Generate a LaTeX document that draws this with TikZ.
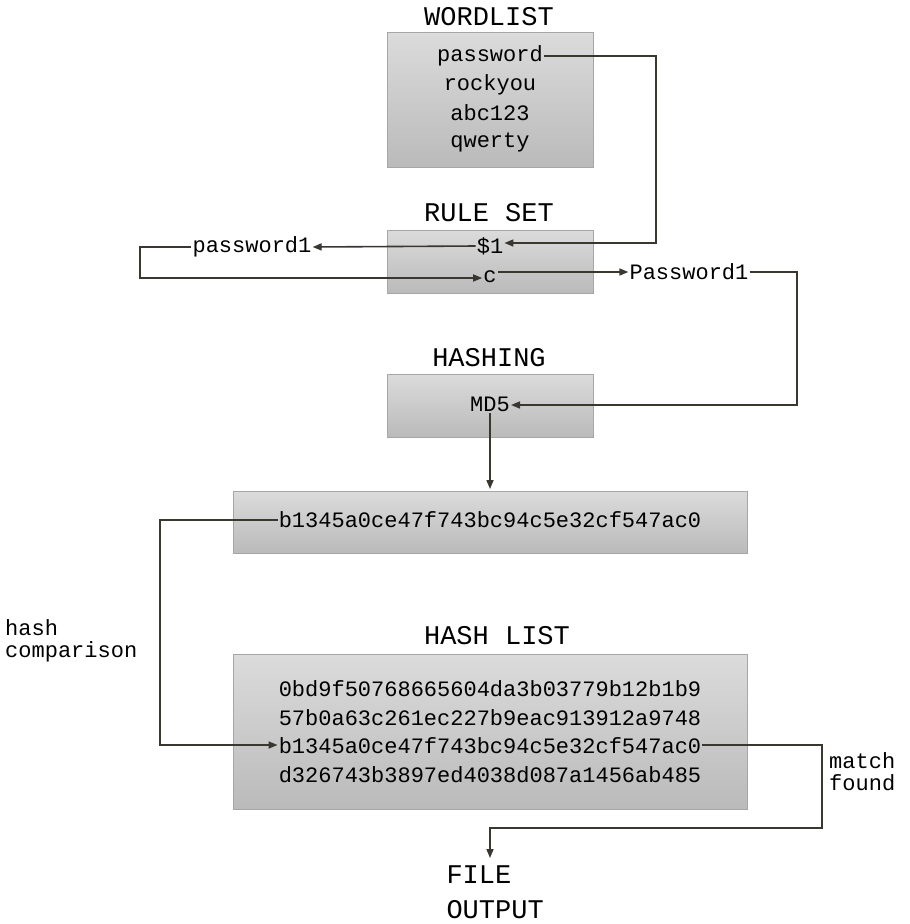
\documentclass[tikz,border=0pt]{standalone}
\usepackage{fontspec}
\setmainfont{Liberation Mono}
\usetikzlibrary{arrows.meta}
\definecolor{ln}{HTML}{3A3630}
\begin{document}
\begin{tikzpicture}[x=1pt,y=-1pt,
  box/.style={draw=black!35,top color=black!14,bottom color=black!27,inner sep=0},
  ttl/.style={font=\fontsize{27}{27}\selectfont},
  txt/.style={font=\fontsize{22}{22}\selectfont,inner sep=1pt},
  con/.style={draw=ln,line width=1.6pt,-{Triangle[length=9pt,width=7pt]}},
  ln/.style={draw=ln,line width=1.6pt}]
\useasboundingbox (0,0) rectangle (910,924);
% boxes
\path[box] (387,32) rectangle (593,167);
\path[box] (387,230) rectangle (593,293);
\path[box] (387,374) rectangle (593,437);
\path[box] (233,491) rectangle (747,553);
\path[box] (233,654) rectangle (747,809);
% titles
\node[ttl] (t1) at (489,17) {WORDLIST};
\node[ttl] (t2) at (489,213) {RULE SET};
\node[ttl] (t3) at (489,358) {HASHING};
\node[ttl] (t4) at (497,636) {HASH LIST};
\node[ttl,anchor=west] (fo) at (443,875) {FILE};
\node[ttl,anchor=west] (fo2) at (443,910) {OUTPUT};
% wordlist
\node[txt] (w1) at (490,56) {password};
\node[txt] (w2) at (490,85) {rockyou};
\node[txt] (w3) at (490,113) {abc123};
\node[txt] (w4) at (490,142) {qwerty};
% rules
\node[txt] (r1) at (490,246) {\$1};
\node[txt] (r2) at (490,277) {c};
\node[txt] (p1) at (252,247) {password1};
\node[txt] (p2) at (689,272) {Password1};
\node[txt] (md) at (490,404) {MD5};
\node[txt] (h) at (490,520) {b1345a0ce47f743bc94c5e32cf547ac0};
\node[txt] (l1) at (490,689) {0bd9f50768665604da3b03779b12b1b9};
\node[txt] (l2) at (490,718) {57b0a63c261ec227b9eac913912a9748};
\node[txt] (l3) at (490,746) {b1345a0ce47f743bc94c5e32cf547ac0};
\node[txt] (l4) at (490,775) {d326743b3897ed4038d087a1456ab485};
\node[txt,anchor=west,align=left] (hc) at (4,641) {hash\\comparison};
\node[txt,anchor=west,align=left] (mf) at (828,772) {match\\found};
% connectors
\draw[con] (w1.east) -- (656,56) -- (656,243) -- (r1.east |- 0,243);
\draw[con] (r1.west) -- (p1.east);
\draw[con] (p1.west) -- (140,247) -- (140,278) -- (r2.west |- 0,278);
\draw[con] (r2.east |- 0,272) -- (p2.west);
\draw[con] (p2.east) -- (797,272) -- (797,405) -- (md.east |- 0,405);
\draw[con] (md.south) -- (490,489);
\draw[con] (h.west) -- (160,520) -- (160,745) -- (l3.west |- 0,745);
\draw[con] (l3.east |- 0,745) -- (822,745) -- (822,828) -- (490,828) -- (490,858);
\end{tikzpicture}
\end{document}
